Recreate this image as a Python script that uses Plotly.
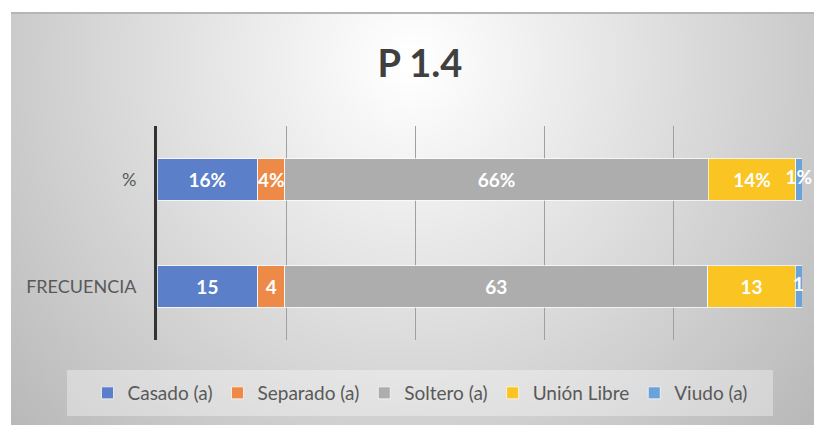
import base64, struct, zlib, math
import plotly.graph_objects as go

# ---------------- data ----------------
categories = ["FRECUENCIA", "%"]
series_names = ["Casado (a)", "Separado (a)", "Soltero (a)", "Unión Libre", "Viudo (a)"]
frecuencia = [15, 4, 63, 13, 1]
porcentaje = [15.6, 4.2, 65.6, 13.5, 1.0]
pct_labels = ["16%", "4%", "66%", "14%", "1%"]
colors = ["#5B7FC9", "#EE8A48", "#ADADAD", "#FAC423", "#6AA2DA"]
title_text = "P 1.4"

W, H = 814, 425
FONT = "Lato, Open Sans, sans-serif"

# ---------------- background gradient image ----------------
def gradient_png(w, h):
    rows = []
    for j in range(h):
        py = 12 + (H - 12) * j / (h - 1)
        row = bytearray([0])
        for i in range(w):
            px = 11 + (W - 11) * i / (w - 1)
            d = math.sqrt(((px - 410) / 420) ** 2 + ((py - 60) / 430) ** 2)
            v = int(max(170, min(255, 257 - 56 * d)))
            row += bytes([v, v, v])
        rows.append(bytes(row))
    raw = b"".join(rows)

    def chunk(tag, data):
        c = struct.pack(">I", len(data)) + tag + data
        return c + struct.pack(">I", zlib.crc32(tag + data) & 0xFFFFFFFF)

    png = b"\x89PNG\r\n\x1a\n"
    png += chunk(b"IHDR", struct.pack(">IIBBBBB", w, h, 8, 2, 0, 0, 0))
    png += chunk(b"IDAT", zlib.compress(raw, 9))
    png += chunk(b"IEND", b"")
    return "data:image/png;base64," + base64.b64encode(png).decode()

bg = gradient_png(201, 103)

def px_x(x):
    return x / W

def px_y(y):
    return 1 - y / H

rows = [frecuencia, porcentaje]
row_text = [[str(v) for v in frecuencia], pct_labels]

fig = go.Figure()
last = len(series_names) - 1
for k, name in enumerate(series_names):
    fig.add_trace(go.Bar(
        y=categories,
        x=[frecuencia[k], porcentaje[k]],
        name=name,
        orientation="h",
        marker=dict(color=colors[k], line=dict(color="rgba(255,255,255,0.7)", width=1)),
        text=[row_text[0][k], row_text[1][k]],
        textposition="none" if k == last else "inside",
        insidetextanchor="middle",
        textangle=0,
        constraintext="none",
        cliponaxis=False,
        textfont=dict(family=FONT, size=19, color="white", weight="bold"),
        width=0.39,
        hoverinfo="skip",
    ))

# labels of the thin last segment (centre of that segment in the normalised scale)
mid_last = []
for r in rows:
    tot = sum(r)
    mid_last.append(100.0 * (tot - r[last] / 2.0) / tot)
fig.add_trace(go.Scatter(
    x=mid_last, y=categories, mode="text",
    text=[row_text[0][last], row_text[1][last]],
    textposition="middle center",
    textfont=dict(family=FONT, size=19, color="white", weight="bold"),
    cliponaxis=False, showlegend=False, hoverinfo="skip",
))

fig.update_layout(
    width=W, height=H,
    barmode="stack",
    barnorm="percent",
    margin=dict(l=0, r=0, t=0, b=0),
    paper_bgcolor="white",
    plot_bgcolor="rgba(0,0,0,0)",
    uniformtext=dict(minsize=19, mode="show"),
    showlegend=True,
    title=dict(text=title_text, x=px_x(420), xanchor="center", y=px_y(64), yanchor="middle",
               font=dict(family=FONT, size=38, color="#404040", weight="bold")),
    xaxis=dict(domain=[px_x(157), px_x(802)], range=[0, 100], dtick=20,
               showgrid=True, gridcolor="#A0A0A0", gridwidth=1,
               showticklabels=False, zeroline=False, showline=False, fixedrange=True),
    yaxis=dict(domain=[px_y(340), px_y(126)], categoryorder="array", categoryarray=categories,
               showline=True, linecolor="#333333", linewidth=3,
               ticks="", ticklabelstandoff=14, showgrid=False,
               tickfont=dict(family=FONT, size=18, color="#595959"),
               fixedrange=True),
    legend=dict(orientation="h", x=px_x(420), xanchor="center", y=px_y(393), yanchor="middle",
                bgcolor="rgba(0,0,0,0)", traceorder="normal",
                font=dict(family=FONT, size=19, color="#595959"),
                itemwidth=30),
    images=[dict(source=bg, xref="paper", yref="paper", x=px_x(11), y=px_y(12),
                 sizex=px_x(W) - px_x(11), sizey=px_y(12) - px_y(H),
                 xanchor="left", yanchor="top", sizing="stretch", layer="below")],
    shapes=[
        dict(type="rect", xref="paper", yref="paper", x0=px_x(67), x1=px_x(773),
             y0=px_y(416), y1=px_y(370), fillcolor="rgba(255,255,255,0.35)",
             line=dict(width=0), layer="below"),
        dict(type="line", xref="paper", yref="paper", x0=px_x(11), x1=1,
             y0=px_y(13), y1=px_y(13), line=dict(color="#B5B5B5", width=2)),
    ],
)

fig.write_html("out.html", config={"displayModeBar": False},
               post_script="document.body.style.margin='0';document.body.style.overflow='hidden';")
